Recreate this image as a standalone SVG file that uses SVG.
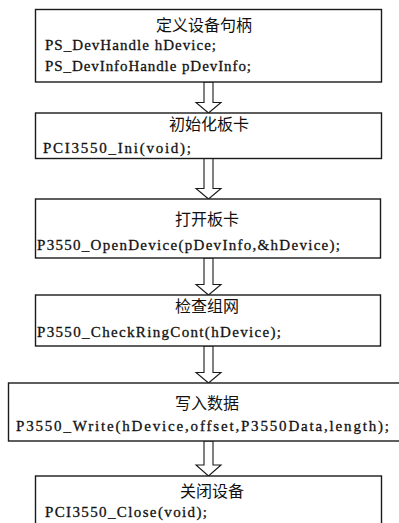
<svg xmlns="http://www.w3.org/2000/svg" width="399" height="523" viewBox="0 0 399 523">
<style>
.box{fill:#fff;stroke:#1a1a1a;stroke-width:1.4}
.arr{fill:#fff;stroke:#1a1a1a;stroke-width:1.1;stroke-linejoin:miter}
.t{font-family:"Noto Sans CJK SC","Noto Sans",sans-serif;font-size:16px;fill:#111;text-anchor:middle}
.c{font-family:"Liberation Serif","DejaVu Serif",serif;font-size:15px;fill:#111;stroke:#111;stroke-width:0.3}
</style>
<rect width="399" height="523" fill="#fff"/>
<g id="connectors">
<polygon class="arr" points="204,82 213,82 213,102.5 221,102.5 208.5,113 196,102.5 204,102.5"/>
<polygon class="arr" points="204,158.5 213,158.5 213,188.5 221,188.5 208.5,199 196,188.5 204,188.5"/>
<polygon class="arr" points="204,258 213,258 213,284.5 221,284.5 208.5,295 196,284.5 204,284.5"/>
<polygon class="arr" points="204,346 213,346 213,372.5 221,372.5 208.5,383 196,372.5 204,372.5"/>
<polygon class="arr" points="204,441 213,441 213,465 221,465 208.5,476 196,465 204,465"/>
</g>
<g id="node1">
<rect class="box" x="35.5" y="9.5" width="346" height="72.5"/>
<text class="t" x="204" y="31">定义设备句柄</text>
<text class="c" x="45" y="50" textLength="171" lengthAdjust="spacing">PS_DevHandle hDevice;</text>
<text class="c" x="45" y="71" textLength="206" lengthAdjust="spacing">PS_DevInfoHandle pDevInfo;</text>
</g>
<g id="node2">
<rect class="box" x="35.5" y="113" width="346" height="45.5"/>
<text class="t" x="209" y="130">初始化板卡</text>
<text class="c" x="43" y="153" textLength="148" lengthAdjust="spacing">PCI3550_Ini(void);</text>
</g>
<g id="node3">
<rect class="box" x="35.5" y="199" width="345" height="59"/>
<text class="t" x="207" y="225">打开板卡</text>
<text class="c" x="37" y="250" textLength="303" lengthAdjust="spacing">P3550_OpenDevice(pDevInfo,&amp;hDevice);</text>
</g>
<g id="node4">
<rect class="box" x="35.5" y="295" width="345" height="51"/>
<text class="t" x="207" y="312">检查组网</text>
<text class="c" x="37" y="337" textLength="244" lengthAdjust="spacing">P3550_CheckRingCont(hDevice);</text>
</g>
<g id="node5">
<rect class="box" x="8.5" y="383" width="400" height="58"/>
<text class="t" x="207" y="409">写入数据</text>
<text class="c" x="16" y="431" textLength="373" lengthAdjust="spacing">P3550_Write(hDevice,offset,P3550Data,length);</text>
</g>
<g id="node6">
<rect class="box" x="35.5" y="476" width="346" height="60"/>
<text class="t" x="212" y="497">关闭设备</text>
<text class="c" x="45" y="517" textLength="162" lengthAdjust="spacing">PCI3550_Close(void);</text>
</g>
</svg>
